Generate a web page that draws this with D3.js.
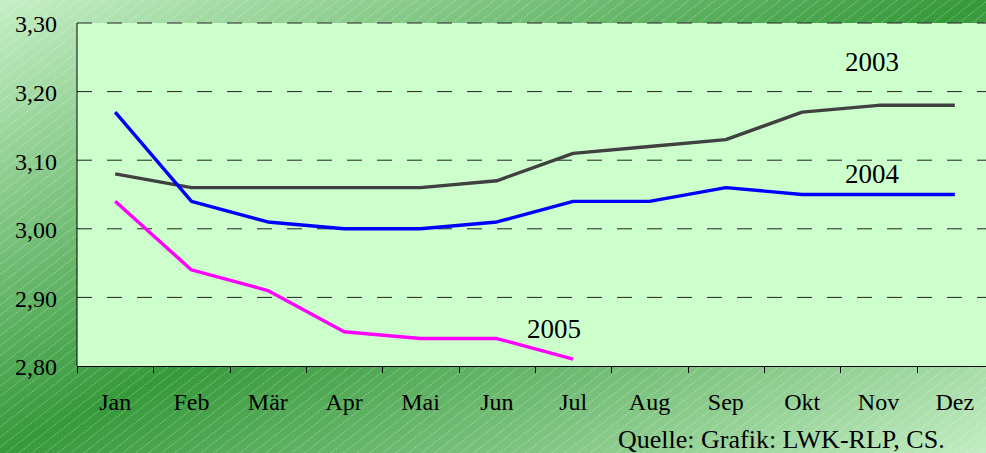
<!DOCTYPE html>
<html lang="de">
<head>
    <meta charset="UTF-8">
    <title>Preise 2003-2005</title>
    <script src="https://cdn.jsdelivr.net/npm/d3@7/dist/d3.min.js"></script>
    <style>
        html, body { margin: 0; padding: 0; }
        svg { display: block; }
        svg text { font-family: "Liberation Serif", "DejaVu Serif", serif; fill: #000; }
        .axis path { display: none; }
        .grid line { stroke: #222; stroke-dasharray: 15,15; }
        .serie { fill: none; stroke-width: 3.4; stroke-linejoin: round; }
    </style>
</head>
<body>
<div id="chart"></div>
<script>
    var monate = ['Jan', 'Feb', 'Mär', 'Apr', 'Mai', 'Jun', 'Jul', 'Aug', 'Sep', 'Okt', 'Nov', 'Dez'];
    var yTicks = [2.8, 2.9, 3.0, 3.1, 3.2, 3.3];

    var werte2003 = [3.08, 3.06, 3.06, 3.06, 3.06, 3.07, 3.11, 3.12, 3.13, 3.17, 3.18, 3.18];
    var werte2004 = [3.17, 3.04, 3.01, 3.00, 3.00, 3.01, 3.04, 3.04, 3.06, 3.05, 3.05, 3.05];
    var werte2005 = [3.04, 2.94, 2.91, 2.85, 2.84, 2.84, 2.81];

    var quelle = 'Quelle: Grafik: LWK-RLP, CS.';

    var serien = [
        { name: '2003', werte: werte2003, farbe: '#404040', lx: 845, ly: 71 },
        { name: '2004', werte: werte2004, farbe: '#0000ff', lx: 845, ly: 183 },
        { name: '2005', werte: werte2005, farbe: '#ff00ff', lx: 527, ly: 338 }
    ];

    var SERIF = '"Liberation Serif", "DejaVu Serif", serif';
    var W = 986, H = 453;
    var plot = { left: 77, top: 23, bottom: 366, right: 993 };

    var svg = d3.select('#chart').append('svg')
        .attr('width', W)
        .attr('height', H)
        .attr('viewBox', [0, 0, W, H].join(' '));

    var defs = svg.append('defs');

    // Hintergrundverlauf: hell - dunkel - hell entlang der Diagonale
    var grad = defs.append('linearGradient')
        .attr('id', 'bg')
        .attr('x1', 0).attr('y1', 0).attr('x2', 1).attr('y2', 1);
    grad.append('stop').attr('offset', 0).attr('stop-color', '#c6efc6');
    grad.append('stop').attr('offset', 0.5).attr('stop-color', '#35993a');
    grad.append('stop').attr('offset', 1).attr('stop-color', '#c2ecc2');

    var pat = defs.append('pattern')
        .attr('id', 'streifen')
        .attr('patternUnits', 'userSpaceOnUse')
        .attr('width', 12).attr('height', 8)
        .attr('patternTransform', 'rotate(-38)');
    pat.append('line')
        .attr('x1', 0).attr('y1', 0.5).attr('x2', 12).attr('y2', 0.5)
        .attr('stroke', 'rgba(255,255,255,0.28)')
        .attr('stroke-width', 1)
        .attr('stroke-dasharray', '2,1');

    svg.append('rect').attr('width', W).attr('height', H).attr('fill', 'url(#bg)');
    svg.append('rect').attr('width', W).attr('height', H).attr('fill', 'url(#streifen)');

    var x = d3.scaleBand().domain(monate).range([plot.left, plot.right]).padding(0);
    var y = d3.scaleLinear().domain([2.8, 3.3]).range([plot.bottom, plot.top]);

    svg.append('rect')
        .attr('x', plot.left)
        .attr('y', plot.top)
        .attr('width', plot.right - plot.left)
        .attr('height', plot.bottom - plot.top)
        .attr('fill', '#ccffcc');

    // Gitterlinien
    svg.append('g').attr('class', 'grid')
        .selectAll('line')
        .data(yTicks.filter(function(d) { return d > 2.8; }))
        .enter().append('line')
            .attr('x1', plot.left)
            .attr('x2', plot.right)
            .attr('y1', function(d) { return y(d); })
            .attr('y2', function(d) { return y(d); });

    var de = d3.formatLocale({ decimal: ',', thousands: '.', grouping: [3], currency: ['', ' €'] });

    svg.append('g')
        .attr('class', 'axis')
        .attr('transform', 'translate(' + plot.left + ',0)')
        .call(d3.axisLeft(y).tickValues(yTicks).tickSize(0).tickPadding(20).tickFormat(de.format('.2f')))
        .attr('font-family', SERIF)
        .attr('font-size', 24)
        .selectAll('text').attr('dy', '0.37em');

    svg.append('g')
        .attr('class', 'axis')
        .attr('transform', 'translate(0,' + plot.bottom + ')')
        .call(d3.axisBottom(x).tickSize(0).tickPadding(27))
        .attr('font-family', SERIF)
        .attr('font-size', 24);

    // Achsenlinien
    svg.append('line')
        .attr('x1', plot.left).attr('x2', plot.left)
        .attr('y1', plot.top).attr('y2', plot.bottom)
        .attr('stroke', '#000');
    svg.append('line')
        .attr('x1', plot.left).attr('x2', plot.right)
        .attr('y1', plot.bottom + 0.5).attr('y2', plot.bottom + 0.5)
        .attr('stroke', '#000');

    svg.append('g')
        .selectAll('line')
        .data(d3.range(monate.length + 1))
        .enter().append('line')
            .attr('x1', function(i) { return Math.round(plot.left + i * x.step()) + 0.5; })
            .attr('x2', function(i) { return Math.round(plot.left + i * x.step()) + 0.5; })
            .attr('y1', plot.bottom)
            .attr('y2', plot.bottom + 7)
            .attr('stroke', '#000');

    var linie = d3.line()
        .x(function(d, i) { return x(monate[i]) + x.bandwidth() / 2; })
        .y(function(d) { return y(d); });

    svg.append('g')
        .selectAll('path')
        .data(serien)
        .enter().append('path')
            .attr('class', 'serie')
            .attr('stroke', function(s) { return s.farbe; })
            .attr('d', function(s) { return linie(s.werte); });

    svg.append('g')
        .selectAll('text')
        .data(serien)
        .enter().append('text')
            .attr('font-family', SERIF)
            .attr('font-size', 27)
            .attr('x', function(s) { return s.lx; })
            .attr('y', function(s) { return s.ly; })
            .text(function(s) { return s.name; });

    svg.append('text')
        .attr('font-family', SERIF)
        .attr('font-size', 26)
        .attr('x', 618)
        .attr('y', 448)
        .text(quelle);
</script>
</body>
</html>
